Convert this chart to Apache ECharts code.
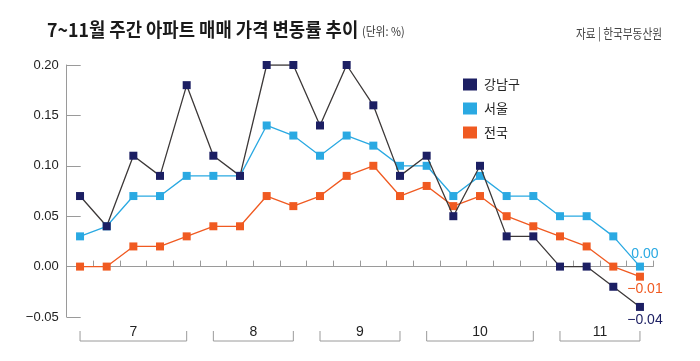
<!DOCTYPE html>
<html>
<head>
<meta charset="utf-8">
<script src="https://cdn.jsdelivr.net/npm/echarts@6/dist/echarts.min.js"></script>
<style>
html,body{margin:0;padding:0;background:#fff;}
#chart{width:700px;height:361px;}
</style>
</head>
<body>
<div id="chart"></div>
<script>
// ---- data ----
const weeks = ['1','2','3','4','5','6','7','8','9','10','11','12','13','14','15','16','17','18','19','20','21','22'];
const gangnam = [0.07,0.04,0.11,0.09,0.18,0.11,0.09,0.20,0.20,0.14,0.20,0.16,0.09,0.11,0.05,0.10,0.03,0.03,0.00,0.00,-0.02,-0.04];
const seoul   = [0.03,0.04,0.07,0.07,0.09,0.09,0.09,0.14,0.13,0.11,0.13,0.12,0.10,0.10,0.07,0.09,0.07,0.07,0.05,0.05,0.03,0.00];
const national= [0.00,0.00,0.02,0.02,0.03,0.04,0.04,0.07,0.06,0.07,0.09,0.10,0.07,0.08,0.06,0.07,0.05,0.04,0.03,0.02,0.00,-0.01];
const seriesNames = ['강남구','서울','전국'];
const monthLabels = ['7','8','9','10','11'];
const monthStart  = [0,5,9,13,18];
const monthEnd    = [4,8,12,17,21];
const yTicks = [-0.05,0.00,0.05,0.10,0.15,0.20];
const titleText = '7~11월 주간 아파트 매매 가격 변동률 추이';
const unitText = '(단위: %)';
const sourceText = '자료 | 한국부동산원';

// ---- styling ----
const C_NAVY = '#1c1f63';
const C_BLUE = '#2aa9e2';
const C_ORANGE = '#f05a21';
const C_GANGNAM_LINE = '#3c3838';
const AXIS = '#9a9a9a';
const FONT_NUM = '"Liberation Sans", Arial, sans-serif';
const FONT_KR = '"Noto Sans CJK KR", "Noto Sans", sans-serif';

function fmt(v){ return (v < 0 ? '\u2212' : '') + Math.abs(v).toFixed(2); }

function withEndLabel(arr, color, pos, dist){
  return arr.map((v,i) => i === arr.length - 1 ? {
    value: v,
    label: {show:true, position: pos, distance: dist, offset:[5,0], color: color,
            fontFamily: FONT_NUM, fontSize: 14, formatter: p => fmt(p.value)}
  } : v);
}

const chart = echarts.init(document.getElementById('chart'), null, {renderer:'canvas'});

const bracketData = monthLabels.map((m,i) => [monthStart[i], yTicks[0], monthEnd[i]]);

const option = {
  animation: false,
  backgroundColor: '#fff',
  grid: {left: 66.7, right: 46.7, top: 65, bottom: 44, containLabel: false},
  legend: {
    orient: 'vertical', left: 458, top: 73,
    icon: 'rect', itemWidth: 14, itemHeight: 12, itemGap: 11,
    textStyle: {fontFamily: FONT_KR, fontSize: 13, color: '#222', padding:[0,0,0,2]},
    data: [
      {name: seriesNames[0], itemStyle: {color: C_NAVY}},
      {name: seriesNames[1], itemStyle: {color: C_BLUE}},
      {name: seriesNames[2], itemStyle: {color: C_ORANGE}}
    ]
  },
  xAxis: {
    type: 'category', data: weeks, boundaryGap: true,
    axisLine: {onZero: true, lineStyle: {color: AXIS, width: 1}},
    axisTick: {show: true, inside: true, length: 6, interval: 0, lineStyle: {color: AXIS}},
    axisLabel: {show: false},
    splitLine: {show: false}
  },
  yAxis: {
    type: 'value', min: -0.05, max: 0.20, interval: 0.05,
    axisLine: {show: true, lineStyle: {color: AXIS, width: 1}},
    axisTick: {show: true, inside: true, length: 14, lineStyle: {color: AXIS}},
    axisLabel: {margin: 8, fontFamily: FONT_NUM, fontSize: 13, color: '#222', formatter: v => fmt(v)},
    splitLine: {show: false}
  },
  graphic: [
    {type: 'text', x: 47, y: 30, scaleX: 0.935, z: 10,
     style: {text: titleText, x: 0, y: 0, fill: '#1a1a1a', font: 'bold 19px ' + FONT_KR, textVerticalAlign: 'middle'}},
    {type: 'text', x: 362, y: 31, scaleX: 0.9, z: 10,
     style: {text: unitText, x: 0, y: 0, fill: '#333', font: '12px ' + FONT_KR, textVerticalAlign: 'middle'}},
    {type: 'text', x: 662, y: 33, scaleX: 0.82, z: 10,
     style: {text: sourceText, x: 0, y: 0, fill: '#444', font: '13px ' + FONT_KR, textAlign: 'right', textVerticalAlign: 'middle'}}
  ],
  series: [
    {
      name: seriesNames[0], type: 'line', z: 4,
      data: withEndLabel(gangnam, C_NAVY, 'bottom', 2),
      symbol: 'rect', symbolSize: 8, showAllSymbol: true,
      lineStyle: {color: C_GANGNAM_LINE, width: 1.3},
      itemStyle: {color: C_NAVY},
      emphasis: {disabled: true}
    },
    {
      name: seriesNames[1], type: 'line', z: 3,
      data: withEndLabel(seoul, C_BLUE, 'top', 1),
      symbol: 'rect', symbolSize: 8, showAllSymbol: true,
      lineStyle: {color: C_BLUE, width: 1.3},
      itemStyle: {color: C_BLUE},
      emphasis: {disabled: true}
    },
    {
      name: seriesNames[2], type: 'line', z: 2,
      data: withEndLabel(national, C_ORANGE, 'bottom', 1),
      symbol: 'rect', symbolSize: 8, showAllSymbol: true,
      lineStyle: {color: C_ORANGE, width: 1.3},
      itemStyle: {color: C_ORANGE},
      emphasis: {disabled: true}
    },
    {
      name: 'months', type: 'custom', silent: true, clip: false, z: 1,
      encode: {x: 0, y: 1},
      data: bracketData,
      renderItem: function(params, api){
        const cs = params.coordSys;
        const x1 = api.coord([api.value(0), 0])[0];
        const x2 = api.coord([api.value(2), 0])[0];
        const yb = cs.y + cs.height + 24;
        const yt = yb - 10;
        return {
          type: 'group',
          children: [
            {type: 'polyline', shape: {points: [[x1, yt], [x1, yb], [x2, yb], [x2, yt]]},
             style: {stroke: AXIS, lineWidth: 1, fill: null}},
            {type: 'text', x: (x1 + x2) / 2, y: yt + 1,
             style: {text: monthLabels[params.dataIndex], fill: '#222', font: '14px ' + FONT_NUM,
                     textAlign: 'center', textVerticalAlign: 'middle'}}
          ]
        };
      }
    }
  ]
};
chart.setOption(option);
</script>
</body>
</html>
